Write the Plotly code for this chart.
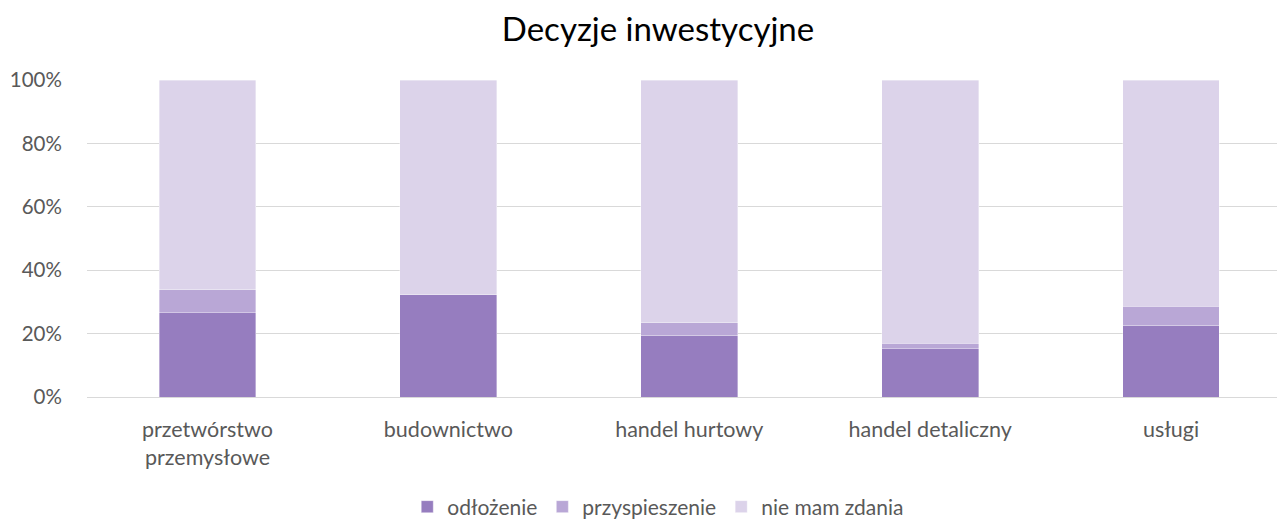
import plotly.graph_objects as go

categories = ["przetwórstwo<br>przemysłowe", "budownictwo", "handel hurtowy", "handel detaliczny", "usługi"]
odlozenie = [26.6, 32.2, 19.5, 15.3, 22.6]
przyspieszenie = [7.2, 0.0, 3.9, 1.6, 6.0]
nie_mam_zdania = [round(100 - a - b, 1) for a, b in zip(odlozenie, przyspieszenie)]

series = [
    ("odłożenie", odlozenie, "#967DBF"),
    ("przyspieszenie", przyspieszenie, "#B9A7D6"),
    ("nie mam zdania", nie_mam_zdania, "#DCD3EA"),
]

# page body has an 8px margin; work in figure coordinates
OFF = 8
W, H = 1285 - OFF, 523 - OFF
L = 86.5 - OFF
T = 80 - OFF
B = H - (397 - OFF)
R = 2
STEP = 241.0

fig = go.Figure()
for name, vals, col in series:
    fig.add_trace(go.Bar(
        x=categories, y=vals, name=name,
        marker=dict(color=col, line=dict(color="rgba(255,255,255,0.45)", width=0.8)),
        hoverinfo="skip",
    ))

font = "Lato, 'Open Sans', sans-serif"
plot_h = H - T - B
fig.update_layout(
    barmode="stack",
    bargap=0.598,
    width=W, height=H,
    margin=dict(l=L, r=R, t=T, b=B, pad=0, autoexpand=False),
    paper_bgcolor="white", plot_bgcolor="white",
    font=dict(family=font, size=21, color="#595959"),
    title=dict(text="Decyzje inwestycyjne", x=(658 - OFF) / W, xanchor="center",
               y=1 - (29 - OFF) / H, yanchor="middle", yref="container", xref="container",
               font=dict(family=font, size=33, color="#000000")),
    showlegend=True,
    legend=dict(orientation="h", xref="paper", yref="paper",
                x=(658 - OFF - L) / (W - L - R), xanchor="center",
                y=-(507 - 397) / plot_h, yanchor="middle",
                font=dict(size=21, color="#595959"), traceorder="normal",
                itemwidth=30, tracegroupgap=0),
    xaxis=dict(range=[-0.5, -0.5 + (W - L - R) / STEP], showgrid=False,
               showline=False, ticks="outside", ticklen=13, tickcolor="rgba(0,0,0,0)",
               tickfont=dict(size=21.5, color="#595959"), automargin=False),
    yaxis=dict(range=[0, 100], tickvals=[0, 20, 40, 60, 80, 100],
               ticktext=["0%", "20%", "40%", "60%", "80%", "100%"],
               showgrid=True, gridcolor="#D9D9D9", gridwidth=1.4,
               zeroline=True, zerolinecolor="#D9D9D9", zerolinewidth=1.4,
               showline=False, ticks="outside", ticklen=20, tickcolor="rgba(0,0,0,0)",
               tickfont=dict(size=20.5, color="#595959"), automargin=False),
)

fig.write_html("out.html")
